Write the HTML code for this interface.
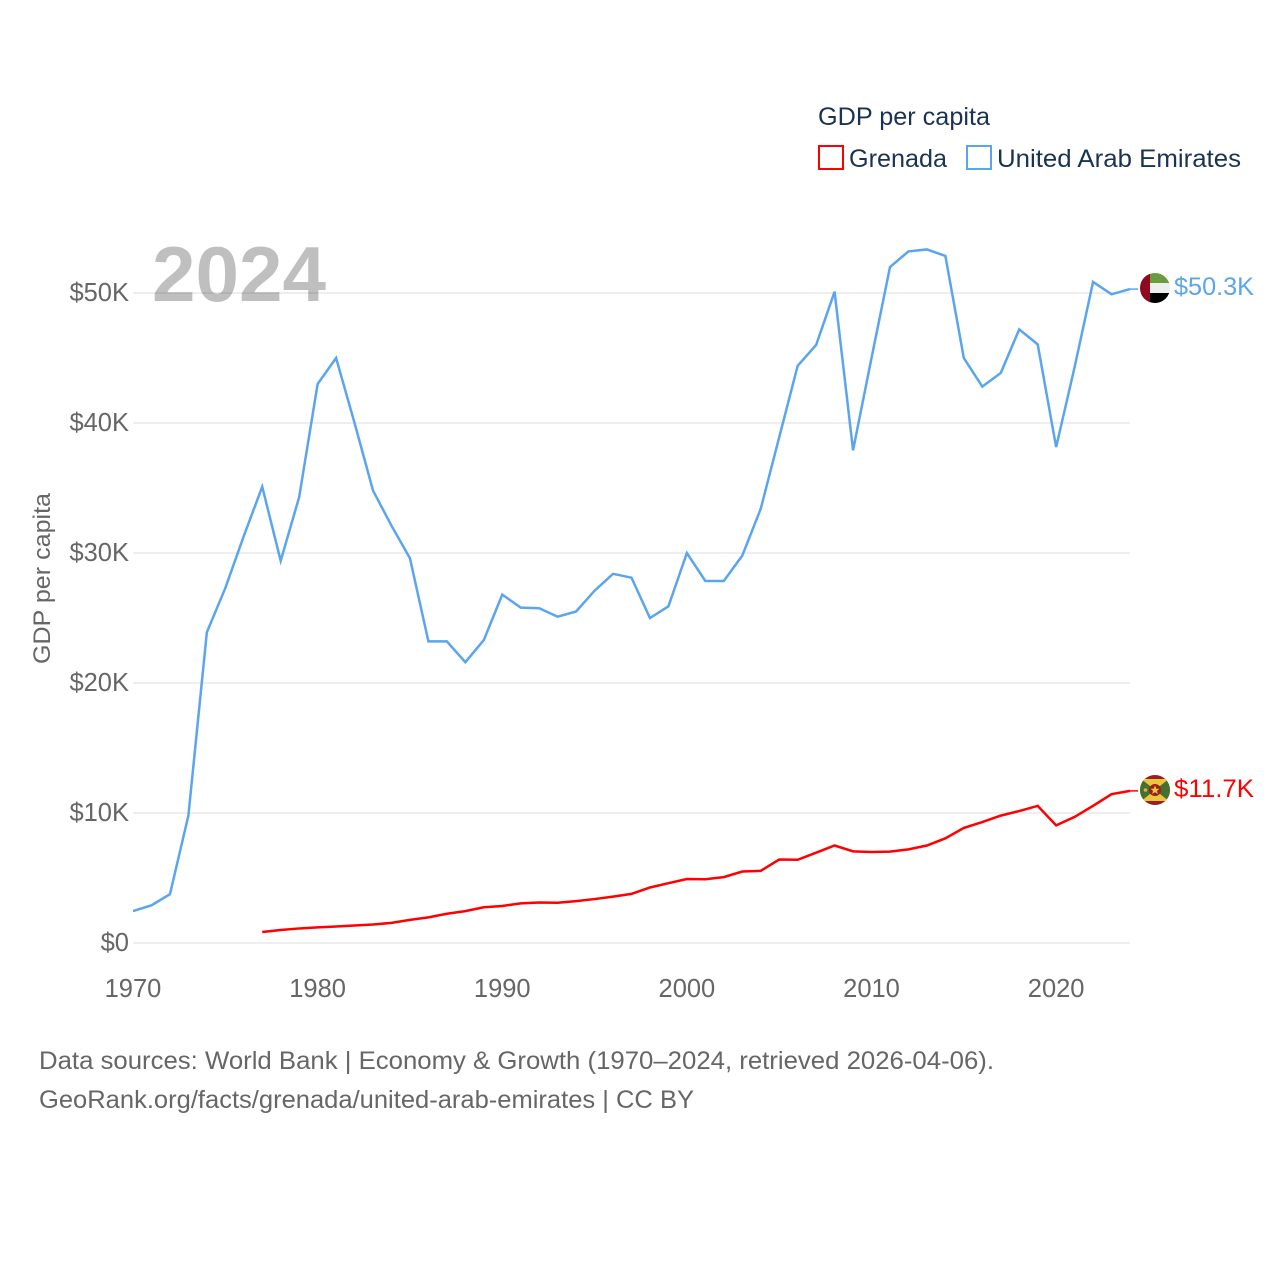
<!DOCTYPE html>
<html>
<head>
<meta charset="utf-8">
<title>GDP per capita: Grenada and United Arab Emirates</title>
<style>
html,body{margin:0;padding:0;background:#fff;}
svg{display:block;font-family:"Liberation Sans",sans-serif;}
</style>
</head>
<body>
<svg id="chart" width="1280" height="1280" viewBox="0 0 1280 1280" xmlns="http://www.w3.org/2000/svg">
  <rect width="1280" height="1280" fill="#fff"/>
  <defs>
    <clipPath id="clip-uae"><circle cx="0" cy="0" r="15"/></clipPath>
    <clipPath id="clip-grd"><circle cx="0" cy="0" r="15"/></clipPath>
  </defs>
  <g id="grid"></g>
  <text x="152" y="301" font-size="78" font-weight="700" fill="#000" fill-opacity="0.25" textLength="174" lengthAdjust="spacingAndGlyphs">2024</text>
  <g id="yticks"></g>
  <g id="xticks"></g>
  <text transform="translate(50,578.5) rotate(-90)" text-anchor="middle" font-size="24" fill="#666" textLength="171" lengthAdjust="spacingAndGlyphs">GDP per capita</text>
  <g id="series"></g>

  <g transform="translate(1155,288)">
    <g clip-path="url(#clip-uae)">
      <rect x="-15" y="-15" width="30" height="10" fill="#6a9b3f"/>
      <rect x="-15" y="-5" width="30" height="10" fill="#eeeeee"/>
      <rect x="-15" y="5" width="30" height="10" fill="#000"/>
      <rect x="-15" y="-15" width="10" height="30" fill="#8f0a20"/>
    </g>
  </g>
  <g transform="translate(1155,790)">
    <g clip-path="url(#clip-grd)">
      <rect x="-15" y="-15" width="30" height="30" fill="#9c1c24"/>
      <polygon points="-15,-11 15,-11 15,11 -15,11" fill="#e8c838"/>
      <polygon points="-15,-12 0,0 -15,12" fill="#45702f"/>
      <polygon points="15,-12 0,0 15,12" fill="#45702f"/>
      <circle cx="0" cy="0" r="6" fill="#9c1c24"/>
      <polygon points="0,-4.5 1.3,-1.3 4.5,-1.3 2,0.9 2.9,4 0,2.2 -2.9,4 -2,0.9 -4.5,-1.3 -1.3,-1.3" fill="#e8c838"/>
      <circle cx="-9.5" cy="0" r="1.8" fill="#d8b838"/>
    </g>
  </g>
  <text x="1174" y="295" font-size="25" fill="#5ba4ee" textLength="80" lengthAdjust="spacingAndGlyphs">$50.3K</text>
  <text x="1174" y="797" font-size="25" fill="#ff0000" textLength="80" lengthAdjust="spacingAndGlyphs">$11.7K</text>

  <g>
    <text x="818" y="125" font-size="25" fill="#1a3352" textLength="172" lengthAdjust="spacingAndGlyphs">GDP per capita</text>
    <rect x="819" y="146" width="24" height="23" fill="#fff" stroke="#ff0000" stroke-width="2"/>
    <text x="849" y="167" font-size="25" fill="#1a3352" textLength="98" lengthAdjust="spacingAndGlyphs">Grenada</text>
    <rect x="967" y="146" width="24" height="23" fill="#fff" stroke="#5ba4ee" stroke-width="2"/>
    <text x="997" y="167" font-size="25" fill="#1a3352" textLength="244" lengthAdjust="spacingAndGlyphs">United Arab Emirates</text>
  </g>

  <text x="39" y="1069" font-size="25" fill="#666" textLength="955" lengthAdjust="spacingAndGlyphs">Data sources: World Bank | Economy &amp; Growth (1970–2024, retrieved 2026-04-06).</text>
  <text x="39" y="1108" font-size="25" fill="#666" textLength="655" lengthAdjust="spacingAndGlyphs">GeoRank.org/facts/grenada/united-arab-emirates | CC BY</text>
</svg>
<script>
const uaeYears = [1970,1971,1972,1973,1974,1975,1976,1977,1978,1979,1980,1981,1982,1983,1984,1985,1986,1987,1988,1989,1990,1991,1992,1993,1994,1995,1996,1997,1998,1999,2000,2001,2002,2003,2004,2005,2006,2007,2008,2009,2010,2011,2012,2013,2014,2015,2016,2017,2018,2019,2020,2021,2022,2023,2024];
const uaeValues = [2.46,2.9,3.75,9.8,23.9,27.3,31.3,35.1,29.4,34.3,43.0,45.0,40.0,34.8,32.1,29.6,23.2,23.2,21.6,23.3,26.8,25.8,25.75,25.1,25.5,27.1,28.4,28.1,25.0,25.9,30.0,27.85,27.85,29.8,33.4,38.9,44.4,46.0,50.1,37.9,45.0,52.0,53.2,53.35,52.85,45.0,42.8,43.85,47.2,46.05,38.15,44.3,50.85,49.9,50.3];
const grenadaYears = [1977,1978,1979,1980,1981,1982,1983,1984,1985,1986,1987,1988,1989,1990,1991,1992,1993,1994,1995,1996,1997,1998,1999,2000,2001,2002,2003,2004,2005,2006,2007,2008,2009,2010,2011,2012,2013,2014,2015,2016,2017,2018,2019,2020,2021,2022,2023,2024];
const grenadaValues = [0.85,1.0,1.12,1.2,1.27,1.35,1.42,1.55,1.78,1.97,2.25,2.45,2.75,2.85,3.05,3.12,3.1,3.22,3.38,3.57,3.78,4.27,4.6,4.92,4.9,5.07,5.5,5.55,6.42,6.4,6.95,7.5,7.05,7.0,7.03,7.2,7.5,8.05,8.85,9.3,9.8,10.15,10.55,9.05,9.7,10.55,11.45,11.7];
const yTickValues = [0,10,20,30,40,50];
const yTickLabels = ["$0","$10K","$20K","$30K","$40K","$50K"];
const xTickValues = [1970,1980,1990,2000,2010,2020];
const xTickLabels = ["1970","1980","1990","2000","2010","2020"];

const NS = "http://www.w3.org/2000/svg";
const xScale = function (year) { return 133 + (year - 1970) * (1130 - 133) / 54; };
const yScale = function (value) { return 943 - value * 13; };

const grid = document.getElementById("grid");
const yticks = document.getElementById("yticks");
const xticks = document.getElementById("xticks");
const seriesGroup = document.getElementById("series");

yTickValues.forEach(function (v, i) {
  const line = document.createElementNS(NS, "line");
  
  
  line.setAttribute("x1", xScale(1970));
  line.setAttribute("x2", xScale(2024));
  line.setAttribute("y1", yScale(v));
  line.setAttribute("y2", yScale(v));
  line.setAttribute("stroke", "#eeeeee");
  line.setAttribute("stroke-width", "2");
  grid.appendChild(line);

  const label = document.createElementNS(NS, "text");
  
  
  label.setAttribute("x", 129);
  label.setAttribute("y", yScale(v) + 8);
  label.setAttribute("text-anchor", "end");
  label.setAttribute("font-size", "25.5");
  label.setAttribute("fill", "#666");
  label.textContent = yTickLabels[i];
  yticks.appendChild(label);
});

xTickValues.forEach(function (v, i) {
  const label = document.createElementNS(NS, "text");
  
  
  label.setAttribute("x", xScale(v));
  label.setAttribute("y", 997);
  label.setAttribute("text-anchor", "middle");
  label.setAttribute("font-size", "25.5");
  label.setAttribute("fill", "#666");
  label.textContent = xTickLabels[i];
  xticks.appendChild(label);
});

function toPoints(years, values) {
  return years.map(function (y, i) {
    return xScale(y).toFixed(2) + "," + yScale(values[i]).toFixed(2);
  }).join(" ");
}

const uaeLine = document.createElementNS(NS, "polyline");


uaeLine.setAttribute("points", toPoints(uaeYears, uaeValues));
uaeLine.setAttribute("fill", "none");
uaeLine.setAttribute("stroke", "#5ba4ee");
uaeLine.setAttribute("stroke-width", "2.5");
seriesGroup.appendChild(uaeLine);

const grenadaLine = document.createElementNS(NS, "polyline");


grenadaLine.setAttribute("points", toPoints(grenadaYears, grenadaValues));
grenadaLine.setAttribute("fill", "none");
grenadaLine.setAttribute("stroke", "#ff0000");
grenadaLine.setAttribute("stroke-width", "2.5");
seriesGroup.appendChild(grenadaLine);

const uaeConnector = document.createElementNS(NS, "line");


uaeConnector.setAttribute("x1", xScale(2024));
uaeConnector.setAttribute("x2", 1138);
uaeConnector.setAttribute("y1", yScale(uaeValues[uaeValues.length - 1]));
uaeConnector.setAttribute("y2", yScale(uaeValues[uaeValues.length - 1]));
uaeConnector.setAttribute("stroke", "#5ba4ee");
uaeConnector.setAttribute("stroke-width", "1.5");
seriesGroup.appendChild(uaeConnector);

const grenadaConnector = document.createElementNS(NS, "line");


grenadaConnector.setAttribute("x1", xScale(2024));
grenadaConnector.setAttribute("x2", 1138);
grenadaConnector.setAttribute("y1", yScale(grenadaValues[grenadaValues.length - 1]));
grenadaConnector.setAttribute("y2", yScale(grenadaValues[grenadaValues.length - 1]));
grenadaConnector.setAttribute("stroke", "#ff0000");
grenadaConnector.setAttribute("stroke-width", "1.5");
seriesGroup.appendChild(grenadaConnector);
</script>
</body>
</html>
